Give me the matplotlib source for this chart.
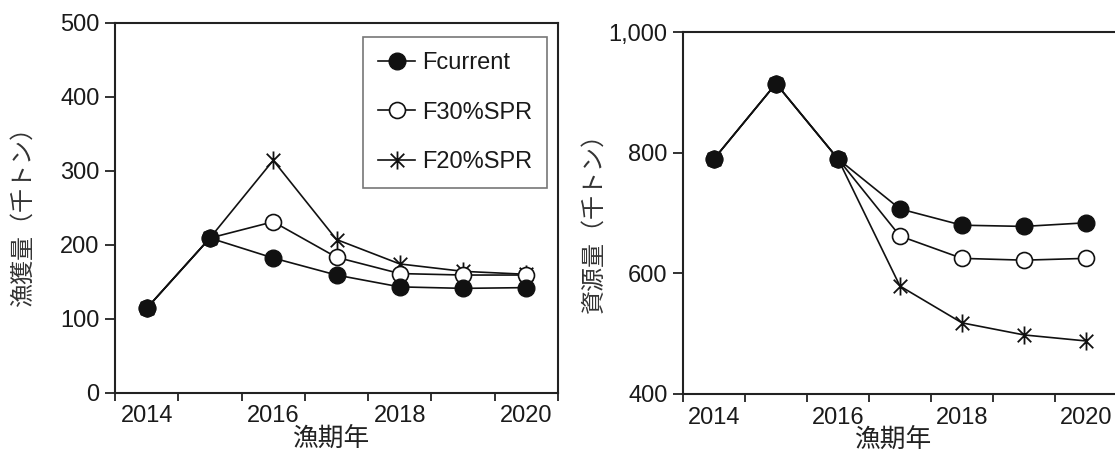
import numpy as np
import matplotlib
matplotlib.use("Agg")
import matplotlib.pyplot as plt
from matplotlib.path import Path
import matplotlib.ticker as mtick

plt.rcParams['font.family'] = ['Liberation Sans', 'Noto Sans CJK JP', 'DejaVu Sans']
plt.rcParams['font.size'] = 17

# data (fishing years, thousand tonnes)
years = [2014, 2015, 2016, 2017, 2018, 2019, 2020]
series_names = ["Fcurrent", "F30%SPR", "F20%SPR"]

catch_fcur = [114, 209, 182, 159, 143, 141, 142]
catch_f30 = [114, 209, 231, 183, 161, 159, 159]
catch_f20 = [114, 209, 314, 207, 174, 164, 160]

biom_fcur = [790, 915, 790, 707, 680, 678, 684]
biom_f30 = [790, 915, 790, 662, 625, 622, 625]
biom_f20 = [790, 915, 790, 579, 518, 498, 488]

left_yticks = [0, 100, 200, 300, 400, 500]
right_yticks = [400, 600, 800, 1000]

# excel style asterisk marker (x + vertical bar)
star = Path([(0, -1), (0, 1), (-0.75, -0.75), (0.75, 0.75), (-0.75, 0.75), (0.75, -0.75)],
            [Path.MOVETO, Path.LINETO, Path.MOVETO, Path.LINETO, Path.MOVETO, Path.LINETO])

LC = '#111111'
styles = {
    "Fcurrent": dict(marker='o', ms=12, mfc=LC, mec=LC, mew=1.0),
    "F30%SPR": dict(marker='o', ms=11.5, mfc='white', mec=LC, mew=1.2),
    "F20%SPR": dict(marker=star, ms=13, mfc='none', mec=LC, mew=1.3),
}

fig = plt.figure(figsize=(11.15, 4.54), dpi=100)
ax1 = fig.add_axes([115/1115, 1 - 392.7/454, 443/1115, 370/454])
ax2 = fig.add_axes([683/1115, 1 - 394/454, 434/1115, 361.7/454])

x = np.arange(len(years))


def draw(ax, data):
    # draw F20 first so Fcurrent sits on top (as in excel)
    for name in ["F20%SPR", "F30%SPR", "Fcurrent"]:
        ax.plot(x, data[name], color=LC, lw=1.2, label=name, zorder=3, clip_on=False,
                **styles[name])
    ax.set_xlim(-0.5, len(years) - 0.5)
    ax.set_xticks(np.arange(-0.5, len(years)))
    ax.set_xticklabels([])
    ax.set_xticks(x[::2], [str(y) for y in years[::2]], minor=True)
    ax.tick_params(axis='x', which='major', direction='out', length=6, width=1.3, color='#222222')
    ax.tick_params(axis='x', which='minor', length=0, pad=9, labelcolor='#1a1a1a')
    ax.tick_params(axis='y', direction='out', length=7, width=1.3, pad=4, color='#222222',
                   labelcolor='#1a1a1a')
    for s in ax.spines.values():
        s.set_linewidth(1.5)
        s.set_color('#222222')


draw(ax1, {"Fcurrent": catch_fcur, "F30%SPR": catch_f30, "F20%SPR": catch_f20})
draw(ax2, {"Fcurrent": biom_fcur, "F30%SPR": biom_f30, "F20%SPR": biom_f20})

ax1.set_ylim(0, 500)
ax1.set_yticks(left_yticks)
ax2.set_ylim(400, 1000)
ax2.set_yticks(right_yticks)
ax2.yaxis.set_major_formatter(mtick.FuncFormatter(lambda v, p: format(int(v), ',')))

ax1.set_ylabel("漁獲量（千トン）", fontsize=17.3, color='#333333', family=['Noto Sans CJK JP'])
ax2.set_ylabel("資源量（千トン）", fontsize=17.3, color='#333333', family=['Noto Sans CJK JP'])
ax1.yaxis.set_label_coords(-0.178, 0.49)
ax2.yaxis.set_label_coords(-0.175, 0.49)

ax1.set_xlabel("漁期年", fontsize=18.5, color='#222222', family=['Noto Sans CJK JP'])
ax2.set_xlabel("漁期年", fontsize=18.5, color='#222222', family=['Noto Sans CJK JP'])
ax1.xaxis.set_label_coords(0.487, -0.09)
ax2.xaxis.set_label_coords(0.484, -0.09)
ax1.xaxis.label.set_va('top')
ax2.xaxis.label.set_va('top')

h, l = ax1.get_legend_handles_labels()
order = [l.index(n) for n in series_names]
leg = ax1.legend([h[i] for i in order], [l[i] for i in order],
                 loc='upper left', bbox_to_anchor=(0.56, 0.961),
                 borderaxespad=0, borderpad=0.62, handlelength=1.6,
                 handletextpad=0.3, labelspacing=1.18, fancybox=False,
                 frameon=True, framealpha=1, edgecolor='#777777', fontsize=17)
leg.get_frame().set_linewidth(1.2)
for t in leg.get_texts():
    t.set_color('#1a1a1a')

fig.savefig("out.png", dpi=100)
